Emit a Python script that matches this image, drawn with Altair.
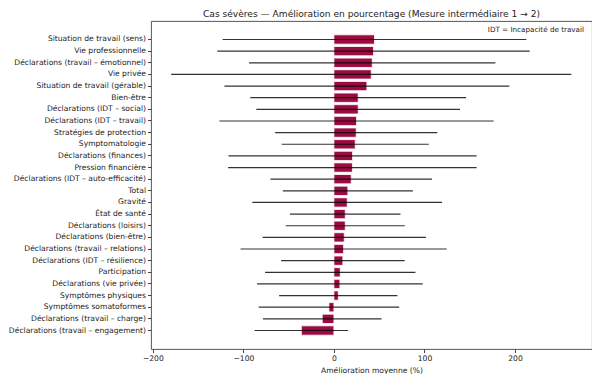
import altair as alt
import pandas as pd

categories = [
    "Situation de travail (sens)",
    "Vie professionnelle",
    "Déclarations (travail – émotionnel)",
    "Vie privée",
    "Situation de travail (gérable)",
    "Bien-être",
    "Déclarations (IDT – social)",
    "Déclarations (IDT – travail)",
    "Stratégies de protection",
    "Symptomatologie",
    "Déclarations (finances)",
    "Pression financière",
    "Déclarations (IDT – auto-efficacité)",
    "Total",
    "Gravité",
    "État de santé",
    "Déclarations (loisirs)",
    "Déclarations (bien-être)",
    "Déclarations (travail – relations)",
    "Déclarations (IDT – résilience)",
    "Participation",
    "Déclarations (vie privée)",
    "Symptômes physiques",
    "Symptômes somatoformes",
    "Déclarations (travail – charge)",
    "Déclarations (travail – engagement)",
]
means = [44.8, 43.7, 42.3, 41.2, 36.4, 26.8, 26.8, 25.0, 24.6, 23.5, 20.6, 20.4,
         19.1, 15.4, 14.7, 12.5, 12.5, 11.4, 10.7, 9.9, 7.0, 6.6, 4.8, -5.5, -12.9, -36.0]
sds = [167.7, 172.5, 136.0, 220.9, 157.3, 119.2, 112.4, 151.4, 89.5, 81.2, 137.0, 137.2,
       89.2, 71.8, 104.8, 61.0, 65.7, 90.2, 113.8, 68.2, 83.0, 91.5, 65.3, 77.6, 65.5, 51.7]

df = pd.DataFrame({"cat": categories, "mean": means, "sd": sds})
df["lo"] = df["mean"] - df["sd"]
df["hi"] = df["mean"] + df["sd"]

FONT = "DejaVu Sans"

xscale = alt.Scale(domain=[-202, 285], nice=False, zero=False)
yscale = alt.Scale(paddingInner=0.2, paddingOuter=1, range=[2.2, 325.8])

ysort = categories

bars = alt.Chart(df).mark_bar(color="#9b0a40", stroke="white", strokeWidth=0.8).encode(
    x=alt.X("mean:Q", scale=xscale,
            axis=alt.Axis(values=[-200, -100, 0, 100, 200], grid=False,
                          title="Amélioration moyenne (%)", format="d",
                          labelFont=FONT, labelFontSize=7.6, titleFont=FONT,
                          titleFontSize=7.6, titleFontWeight="normal",
                          labelColor="#222", titleColor="#222",
                          tickSize=3.5, tickColor="#444", domain=False,
                          labelPadding=2, titlePadding=4)),
    x2=alt.datum(0),
    y=alt.Y("cat:N", sort=ysort, scale=yscale,
            axis=alt.Axis(title=None, labelFont=FONT, labelFontSize=7.6,
                          labelColor="#222", tickSize=3.5, tickColor="#444",
                          domain=False, labelPadding=2, labelLimit=300)),
)

errs = alt.Chart(df).mark_rule(color="black", opacity=0.8, strokeWidth=1.2).encode(
    x=alt.X("lo:Q", scale=xscale),
    x2="hi:Q",
    y=alt.Y("cat:N", sort=ysort, scale=yscale),
)

note = alt.Chart(pd.DataFrame({"t": ["IDT = Incapacité de travail"]})).mark_text(
    align="right", baseline="middle", font=FONT, fontSize=7.2, color="#222"
).encode(x=alt.value(433), y=alt.value(9), text="t:N")

chart = alt.layer(bars, errs, note).properties(
    width=441, height=328,
    title=alt.TitleParams(
        "Cas sévères — Amélioration en pourcentage (Mesure intermédiaire 1 → 2)",
        font=FONT, fontSize=9.1, fontWeight="normal", color="#222",
        anchor="middle", offset=2),
    autosize=alt.AutoSizeParams(type="none"),
    padding={"left": 143, "top": 13, "right": 0, "bottom": 25},
).configure_view(stroke="#444", strokeWidth=0.9)

chart.save("out.html", embed_options={"renderer": "svg", "actions": False})
